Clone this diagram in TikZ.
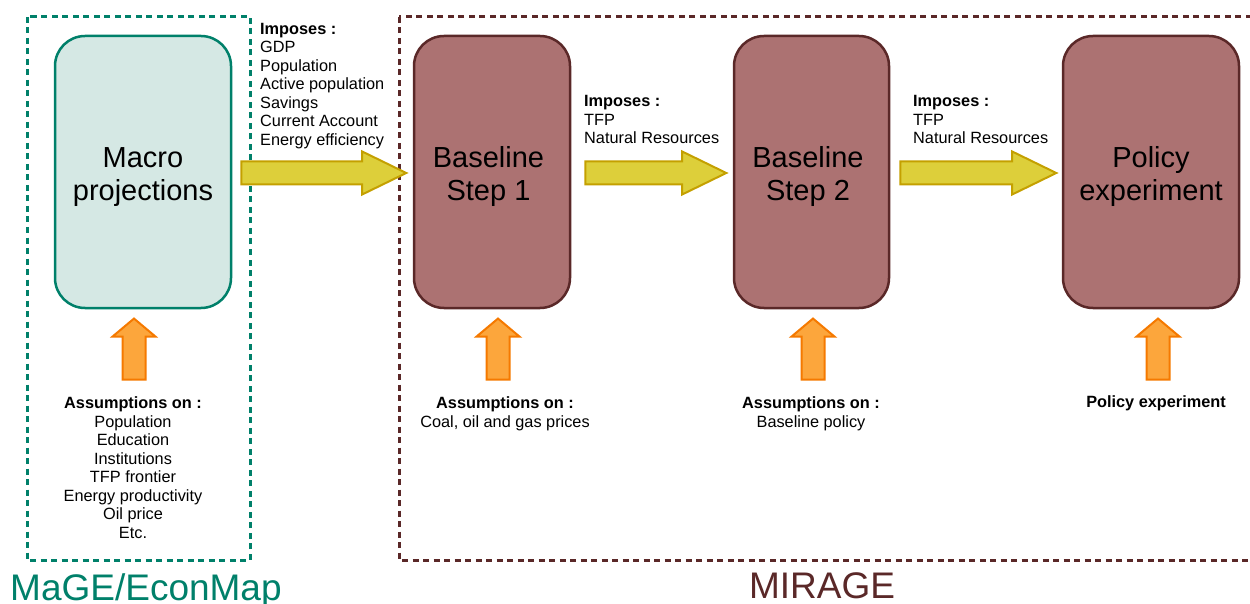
\documentclass[tikz,border=0pt]{standalone}
\usepackage{fontspec}
\setmainfont{Liberation Sans}
\usetikzlibrary{shapes.arrows,positioning}

\definecolor{mageGreen}{RGB}{0,128,106}
\definecolor{mageFill}{RGB}{213,232,228}
\definecolor{mirageDark}{RGB}{90,40,40}
\definecolor{mirageFill}{RGB}{172,114,114}
\definecolor{arrowGold}{RGB}{196,160,0}
\definecolor{arrowYellow}{RGB}{221,207,58}
\definecolor{upOrange}{RGB}{245,121,0}
\definecolor{upFill}{RGB}{252,166,60}

\begin{document}
\begin{tikzpicture}
[x=1pt,y=-1pt,%
  modelBox/.style={rectangle,rounded corners=30pt,line width=2.5pt,minimum height=272pt,inner sep=0pt},%
  mageBox/.style={modelBox,draw=mageGreen,fill=mageFill},%
  mirageBox/.style={modelBox,draw=mirageDark,fill=mirageFill},%
  boxText/.style={align=center,inner sep=0pt,font=\fontsize{29}{33}\selectfont},%
  fatArrow/.style={single arrow,draw=arrowGold,fill=arrowYellow,line width=2pt,inner xsep=0pt,inner ysep=10.5pt,single arrow head extend=10pt,single arrow tip angle=52},%
  upArrow/.style={single arrow,rotate=90,draw=upOrange,fill=upFill,line width=2pt,inner xsep=0pt,inner ysep=10.5pt,minimum height=61pt,single arrow head extend=10pt,single arrow tip angle=100},%
  smallText/.style={inner sep=0pt,font=\fontsize{16.3}{18.5}\selectfont},%
  bigName/.style={inner sep=0pt,font=\fontsize{37}{40}\selectfont},%
  modelFrame/.style={line width=3pt,dash pattern=on 6pt off 4.5pt}]
\useasboundingbox (0,0) rectangle (1250,604);
%% frames of the two models
\draw[modelFrame,mageGreen] (27,17) rectangle (250,560);
\draw[modelFrame,mirageDark] (399,17) rectangle (1264,560);
%% model boxes
\node (macro) at (143,172) [mageBox,minimum width=176pt,label={[boxText,yshift=-5pt]center:Macro\\projections}] {};
\foreach \nodename/\x/\w/\tx/\txt in {step1/492/156/-3.5/{Baseline\\Step 1}, step2/811.5/155/-3.5/{Baseline\\Step 2}, policy/1151/176/0/{Policy\\experiment}}
{
  \node (\nodename) at (\x,172) [mirageBox,minimum width=\w pt,label={[boxText,xshift=\tx pt,yshift=-5pt]center:\txt}] {};
}
%% yellow arrows between boxes
\node (impA) [fatArrow,minimum height=165pt,anchor=tail] at ([xshift=8pt,yshift=-1pt]macro.east) {};
\node (impB) [fatArrow,minimum height=141pt,anchor=tail] at ([xshift=13pt,yshift=-1pt]step1.east) {};
\node (impC) [fatArrow,minimum height=156pt,anchor=tail] at ([xshift=9pt,yshift=-1pt]step2.east) {};
%% orange arrows from assumptions
\foreach \nodename/\boxname/\dx in {upA/macro/-9, upB/step1/6, upC/step2/1.5, upD/policy/7}
{
  \node (\nodename) [upArrow,anchor=tip] at ([xshift=\dx pt,yshift=-8pt]\boxname.south) {};
}
%% imposed variables
\node (impTextA) [smallText,align=left,anchor=north west] at (260,23)
  {\textbf{Imposes :}\\GDP\\Population\\Active population\\Savings\\Current Account\\Energy efficiency};
\node (impTextB) [smallText,align=left,anchor=north west] at (584,95.5)
  {\textbf{Imposes :}\\TFP\\Natural Resources};
\node (impTextC) [smallText,align=left,anchor=north west] at (913,95.5)
  {\textbf{Imposes :}\\TFP\\Natural Resources};
%% assumptions
\node (assA) [smallText,align=center,anchor=north] at (133,396.5)
  {\textbf{Assumptions on :}\\Population\\Education\\Institutions\\TFP frontier\\Energy productivity\\Oil price\\Etc.};
\node (assB) [smallText,align=center,anchor=north] at (505,396.5)
  {\textbf{Assumptions on :}\\Coal, oil and gas prices};
\node (assC) [smallText,align=center,anchor=north] at (811,396.5)
  {\textbf{Assumptions on :}\\Baseline policy};
\node (assD) [smallText,anchor=north] at (1156,395) {\textbf{Policy experiment}};
%% model names
\node (mageName) [bigName,anchor=base west,text=mageGreen] at (10,600) {MaGE/EconMap};
\node (mirageName) [bigName,anchor=base,text=mirageDark] at (822,598) {MIRAGE};
\end{tikzpicture}
\end{document}
